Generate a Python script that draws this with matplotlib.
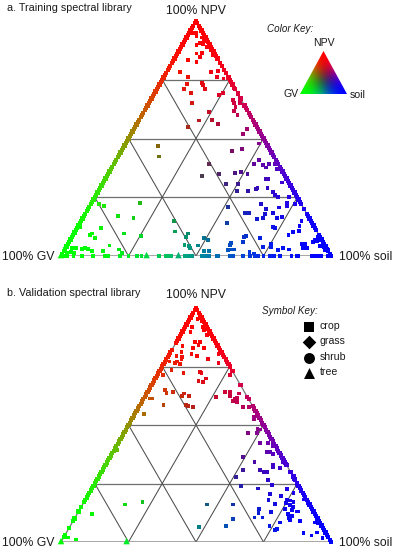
import numpy as np
import matplotlib
matplotlib.use('Agg')
import matplotlib.pyplot as plt
from matplotlib.patches import Polygon

plt.rcParams['font.family'] = ['Liberation Sans', 'DejaVu Sans']

# ---- Panel a: interior samples (percent soil, percent NPV) ----
a_soil = [0.3,1,2.6,3.4,5.6,7.2,6.2,7.6,5.3,9.7,11.5,7.1,8.9,9.1,13.6,5.3,8.9,15.8,5,16.6,18.9,8.8,19.9,22.4,9.9,15.4,16.2,10.1,13.4,17.8,28.4,24.4,25.5,31.1,30.6,31.7,33.8,33,33.3,35.3,16,24.2,22.2,27,30,19.4,42,41.5,44,
          12.6,15.2,40.8,44.4,49.5,35.2,35.1,41.1,45.8,46.8,48.6,51.7,50.3,51.2,55.5,52,52.9,55.6,57,57.6,59.7,61.5,59.5,60.5,66.3,61.9,57.9,58.4,65.1,66.3,68,71.8,
          3.2,5.4,18,12.6,18.7,8.9,0.9,6.2,6.7,8.7,18.4,25.3,15.7,14.6,20.2,21.8,6.2,7.2,8.6,10.5,2.3,3.9,0,2.7,4.1,1.4,
          34.4,37,42.1,42.1,43.4,45.2,46.1,48.6,49.1,51,52,53.8,51.5,54.4,60.4,60.3,60.6,61.2,62.7,63.8,64.5,64.2,59,60.4,63.1,65.8,64.9,66.8,66.6,69.5,71.9,70.4,73.4,72.6,73.2,75.7,72.4,73.4,81.6,81.9,82.7,81,79.8,69.8,75.2,76,72.9,80.7,83,79.2,86.6,88,88,89.4,90.7,90.4,91.7,93.7,95.2,96.6,97.7,91.2,92.8,69,70.8]
a_npv = [95,94.8,94.8,93.6,93,91.6,90.5,90.2,89.8,89,87.7,86.2,86.5,84.8,85.5,83.3,82.6,83.7,78.2,78.2,78.7,76.2,76,75.5,73.3,73.5,72.6,71.1,69.2,71.1,71.6,68.5,69.2,69.2,66.4,65,65,63.3,61.8,60.1,65.2,61.4,57.7,57.9,56.2,55,53.9,51.9,55.7,
         46.8,42.3,44.8,45.5,47.9,39.1,34,34.9,30.6,35.2,35.9,34.8,30.6,27.8,27.7,39.1,40.9,38.7,37.7,39.1,39.1,36.9,32.6,32.6,31.3,29.1,28.4,28.8,27.1,26,25,25.2,
         22,21.3,22.7,17,16.3,11.8,12.2,9.1,9.6,7.8,9.6,8.5,4.5,2.1,2.8,1.4,3,3.4,3,2.1,3.3,3.3,3.3,1.8,1.4,1.4,
         14.9,10.4,9.6,8.2,4.7,4.3,3.3,4.5,7.7,6.7,2.1,2.1,21,14.2,5.4,4.7,2.6,2.8,2.8,8.2,6.1,8.5,18.2,18.4,22,20,15.6,16.3,17.9,18.2,16,20.6,16.7,22.4,21.3,22,12.5,11.8,15,12.8,10.8,10.1,8.9,7.8,5,3.7,4,3.3,2.8,2.6,5.1,5.1,3.5,3.3,6.8,6.1,6.4,4.4,4,2.3,2.6,8.2,7.4,1.6,1.1]
# samples lying on the bottom edge (0% NPV): percent soil
a_bottom_soil = [0.9,2.1,4.6,7.7,12,16.3,17.5,21.9,25,28,29.8,36.4,38.8,39.8,40.6,46,47.2,48.4,52.1,53.3,54.9,57.7,58.3,62.6,63.8,67.3,70,71.9,73.1,75,77.4,78.9,81.1,85.4,87.3,87.9,92.8,94.1,95.3,96.5,99,100]
# samples on the left edge (0% soil): percent NPV
a_left_npv = [1,2,3,4,5,6,7,8,9,10,11,12,13,14,15,16,17,18,19,20,21,22,23,24,25,26,27,28,29,30,31,32,33,34,35,36,37,38,39,40,41,42,43,44,45,46,47,48,49,50,51,52,53,54,55,56,57,58,59,60,61,62,63,64,65,66,67,68,69,70,71,72,73,74,75,76,77,78,79,80,81,82,83,84,85,86,87,88,89,90,91,92,93,94,95,96,97,98,99,100]
# samples on the right edge (0% GV): percent NPV
a_right_npv = [100,99,98,97,96,95,94,93,92,91,90,89,88,87,86,85,84,82,81,79,78,76,75,74,73,71,69,67,64,63,62,61,60,59,58,57,56,55,54,53,52,51,50,49,48,47,46,45,44,43,42,41,40,39,38,37,36,35,34,33,32,31,30,29,28,27,26,25,24,23,22,20,18,17,16,15,14,13,12,11,9,8,7,6,5,4,3,2,1,0]
a_triangle_soil = [0,31.7,43.5]

# ---- Panel b ----
b_soil = [2.4,2.9,5,6.7,3,7.7,9.7,10.6,9.8,6.8,8.7,8.8,7.4,3.1,4,11.6,8.2,5.1,3,10.5,15.4,18.2,20.1,5.6,4.3,1.6,4,6,4.2,9.3,15.1,16,2.2,18.7,18.4,16.5,26.9,6,7.2,9.5,13.9,13.5,16.4,2.3,3,8.7,17,18.1,19.9,3.5,30.5,28.7,26.5,34.3,31.4,33.9,34.6,33.6,35.3,38.4,40.8,32.8,44.9,
          46,49.1,48.6,45.3,49.7,52.6,55.7,58.1,56.9,58.1,59.7,61.6,65.2,66.7,49.2,54.5,62.2,62.7,65.4,58.3,52.1,60.1,61.3,50.9,63.3,72,73.5,54.8,61.5,66,72.4,67.2,67.9,71.2,71.6,75.7,74.7,75,76,77.5,80.9,83.2,76.9,78.3,78.6,76,80.8,81.4,78.2,79.9,79.2,80.1,84,90,91.3,66.2,66.9,66.4,69.4,71.3,73.7,77,76.8,77.4,87.8,91.4,92.9,96,95.6,46,55.7,58.9,57.6,48.1,21.6,15.8,5.7,1,1.7,5]
b_npv = [92,95.3,94.2,92,89.9,90.6,89.9,89.2,88.5,85.6,85.6,84.2,82.8,83.8,81.3,82.8,80.3,79.2,79.6,79.5,78.3,80.3,76.4,78.1,77.1,77.1,76.4,76.1,73.5,72.1,72.8,72.1,71.4,69.9,68.5,68.8,71.4,65,63.8,64.2,63.5,62.4,62.3,61.3,61.3,58.5,58.5,58.1,57.8,54.7,64.2,64,61.8,63.5,62.4,61,61.4,60.4,60,57.8,57.8,67.1,53.3,
         46.7,46.7,48.3,52.4,48.1,42.2,42.2,41,38.6,38.6,37.5,37.9,34.3,33.2,36.2,34.3,32.9,31.9,31.5,30.8,30.8,29.8,29.8,27.9,26.5,28.3,26.5,23.8,22.9,24.2,22.5,20.5,17.9,16.2,19.7,20.8,17.9,16.5,17.7,17.2,18.2,16.8,15.8,15.1,13.7,14,13,13,12,11.1,10.1,9.4,9,8.3,8,14.2,12.5,10.5,10.5,12.8,7,8.3,5.1,5.4,4,2.8,4.1,1.7,4.4,16,16,9.7,7,6.3,17.2,16,11.8,39.3,1.9,1.1]
b_left_npv = [2,3,6,9,10,13,15,17,18,19,20,21,22,23,24,25,26,27,28,29,30,31,32,33,34,35,36,37,38,39,40,41,42,43,44,45,46,47,48,49,50,51,52,53,54,55,56,57,58,59,60,61,62,63,64,65,66,67,68,69,70,71,72,73,74,75,76,77,78,79,80,81,82,85,86,87,88,89,90,91,92,93,94,95,96,97,98,99,100]
b_right_npv = [100,99,98,97,96,95,94,93,92,91,90,89,88,87,86,85,84,83,82,81,80,79,78,77,76,75,73,67,62,61,58,57,56,55,54,53,52,51,50,49,48,47,46,45,44,43,42,41,40,39,38,37,36,35,34,33,30,28,27,25,24,23,22,21,20,19,18,17,16,15,14,13,12,11,10,9,8,7,6,5,4,3,2,1,0]
b_bottom_soil = []
b_triangle_soil = [0,24.3]

grid_levels = [25,50,75]
key_names = ['crop','grass','shrub','tree']
key_markers = ['s','D','o','^']

W, H = 394, 550
fig = plt.figure(figsize=(W/100, H/100), dpi=100)

def axes_px(x0, y0, x1, y1):
    ax = fig.add_axes([x0/W, 1-y1/H, (x1-x0)/W, (y1-y0)/H])
    ax.axis('off')
    return ax

def stretch(x):
    # contrast curve of the original colour ramp
    x = np.clip(x, 0, 1)
    return (x**2/(x**2+(1-x)**2))**0.8

def colours(soil, npv):
    soil, npv = np.asarray(soil, float)/100, np.asarray(npv, float)/100
    gv = np.clip(1-soil-npv, 0, 1)
    return np.c_[stretch(npv), stretch(gv), stretch(soil)]

def panel(ax, soil, npv, bottom, left, right, tri):
    ax.set_xlim(0,100); ax.set_ylim(0,100)
    X = lambda s, n: np.asarray(s, float)+np.asarray(n, float)/2
    gc = '#4d4d4d'
    for a in grid_levels:
        ax.plot(X([0,100-a],[a,a]), [a,a], color='#6e6e6e', lw=0.9, zorder=1)
        ax.plot(X([a,a],[0,100-a]), [0,100-a], color=gc, lw=0.75, zorder=1)
        ax.plot(X([a,0],[0,a]), [0,a], color=gc, lw=0.75, zorder=1)
    ax.plot(X([0,100,0,0],[0,0,100,0]), [0,0,100,0], color='#777777', lw=0.9, zorder=1)
    ax.scatter(X(soil,npv), npv, s=7.5, marker='s', c=colours(soil,npv), linewidths=0, zorder=3, clip_on=False)
    bt = np.asarray(bottom, float)
    ax.scatter(bt, 0*bt, s=7.5, marker='s', c=colours(bt,0*bt), linewidths=0, zorder=3, clip_on=False)
    s = np.r_[np.zeros(len(left)), 100-np.asarray(right, float)]
    n = np.r_[left, right]
    ax.scatter(X(s,n), n, s=9.5, marker='s', c=colours(s,n), linewidths=0, zorder=3, clip_on=False)
    t = np.asarray(tri, float)
    ax.scatter(X(t,0*t), 0*t+0.4, s=22, marker='^', c=colours(t,0*t), linewidths=0, zorder=3, clip_on=False)

axa = axes_px(61, 21, 331, 256)
panel(axa, a_soil, a_npv, a_bottom_soil, a_left_npv, a_right_npv, a_triangle_soil)
axb = axes_px(61, 308, 331, 542)
panel(axb, b_soil, b_npv, b_bottom_soil, b_left_npv, b_right_npv, b_triangle_soil)

# colour key
axk = axes_px(300, 51, 347, 94)
axk.set_xlim(0,1); axk.set_ylim(0,1)
xx, yy = np.meshgrid(np.linspace(0,1,120), np.linspace(0,1,120))
ss = np.clip(xx-yy/2, 0, 1); gg = np.clip(1-ss-yy, 0, 1)
im = axk.imshow(np.dstack([stretch(yy), stretch(gg), stretch(ss)]), origin='lower', extent=(0,1,0,1), aspect='auto', interpolation='bilinear')
im.set_clip_path(Polygon([[0,0],[1,0],[0.5,1]], transform=axk.transData))

def txt(x, y, s, size=9, ha='left', style='normal'):
    fig.text(x/W, 1-y/H, s, fontsize=size, ha=ha, va='center', style=style, color='#1a1a1a')

txt(7, 8, 'a. Training spectral library', 7.75)
txt(7, 293.5, 'b. Validation spectral library', 7.75)
txt(196, 10.5, '100% NPV', 8.8, 'center')
txt(196, 295.5, '100% NPV', 8.8, 'center')
txt(2, 257, '100% GV', 8.8)
txt(339, 257, '100% soil', 8.8)
txt(2, 543.5, '100% GV', 8.8)
txt(339, 543.5, '100% soil', 8.8)
txt(267, 29.5, 'Color Key:', 7.1, style='italic')
txt(323.5, 43, 'NPV', 7.6, 'center')
txt(283, 94, 'GV', 7.6)
txt(350, 94.5, 'soil', 7.6)
txt(262, 311, 'Symbol Key:', 7.1, style='italic')

axs = axes_px(0, 0, W, H)
axs.set_xlim(0, W); axs.set_ylim(H, 0)
for name, m, y, sz in zip(key_names, key_markers, [326.5, 342, 358, 372.5], [58, 48, 62, 62]):
    axs.scatter([309], [y], marker=m, s=sz, color='black', linewidths=0)
    txt(320, y-0.5, name, 7.6)

fig.savefig('out.png', dpi=100)
